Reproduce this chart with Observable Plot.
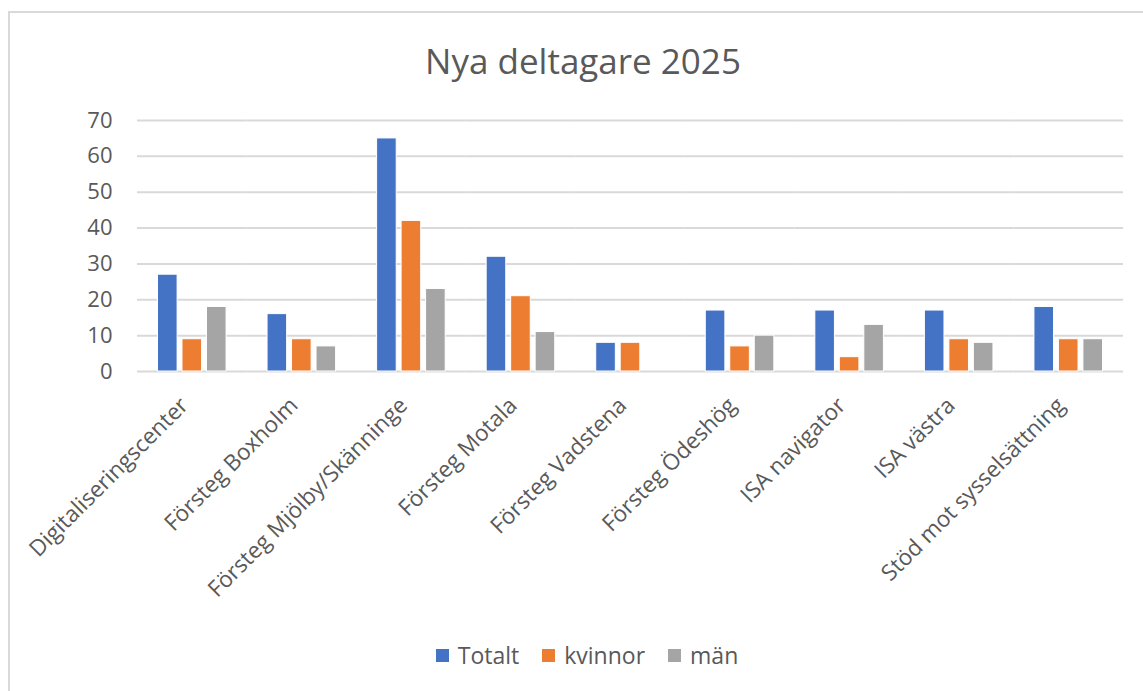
<!DOCTYPE html>
<html>
<head>
<meta charset="utf-8">
<script src="https://cdn.jsdelivr.net/npm/d3@7"></script>
<script src="https://cdn.jsdelivr.net/npm/@observablehq/plot@0.6"></script>
<style>
  body { margin: 0; background: #fff; font-family: "Open Sans", sans-serif; }
  #frame { position: absolute; left: 8px; top: 11px; width: 1200px; height: 700px; border: 2px solid #d9d9d9; box-sizing: border-box; }
  #title { position: absolute; left: 0; top: 37px; width: 1166px; text-align: center; font-size: 35px; color: #595959; font-family: "Open Sans", sans-serif; }
  #chart { position: absolute; left: 0; top: 100px; }
  #legend { position: absolute; left: 0; top: 639px; width: 1174px; display: flex; justify-content: center; gap: 23px; font-size: 23px; color: #595959; }
  .item { display: flex; align-items: center; gap: 9px; }
  .sw { width: 13px; height: 13px; display: inline-block; }
</style>
</head>
<body>
<div id="frame"></div>
<div id="title">Nya deltagare 2025</div>
<div id="chart"></div>
<div id="legend"></div>
<script>
const categories = [
  "Digitaliseringscenter",
  "Försteg Boxholm",
  "Försteg Mjölby/Skänninge",
  "Försteg Motala",
  "Försteg Vadstena",
  "Försteg Ödeshög",
  "ISA navigator",
  "ISA västra",
  "Stöd mot sysselsättning"
];
const seriesNames = ["Totalt", "kvinnor", "män"];
const totalt  = [27, 16, 65, 32, 8, 17, 17, 17, 18];
const kvinnor = [9, 9, 42, 21, 8, 7, 4, 9, 9];
const man     = [18, 7, 23, 11, 0, 10, 13, 8, 9];
const seriesColors = ["#4472C4", "#ED7D31", "#A5A5A5"];
const yTicks = [0, 10, 20, 30, 40, 50, 60, 70];

const seriesValues = [totalt, kvinnor, man];
const table = categories.flatMap((c, i) =>
  seriesNames.map((s, j) => ({cat: c, series: s, value: seriesValues[j][i]}))
);

const chart = Plot.plot({
  width: 1143,
  height: 511,
  marginLeft: 137,
  marginRight: 20,
  marginTop: 20,
  marginBottom: 240,
  style: {fontFamily: "Open Sans, sans-serif", fontSize: "22px", color: "#595959", background: "transparent"},
  fx: {domain: categories, padding: 0, round: false, axis: null, label: null},
  x: {domain: seriesNames, paddingInner: 0.2, paddingOuter: 0.837, round: false, axis: null},
  y: {domain: [0, 70], ticks: 7, tickSize: 0, tickPadding: 25, label: null, grid: false},
  color: {domain: seriesNames, range: seriesColors},
  marks: [
    Plot.ruleY(yTicks, {stroke: "#d9d9d9", strokeWidth: 2}),
    Plot.barY(table, {fx: "cat", x: "series", y: "value", fill: "series", stroke: "white", strokeWidth: 1}),
    Plot.text(categories, {fx: d => d, text: d => d, frameAnchor: "bottom", rotate: -45, textAnchor: "end", lineAnchor: "top", dx: -14, dy: 24, fontSize: 22.5, fill: "#595959"})
  ]
});
document.getElementById("chart").appendChild(chart);

const legend = document.getElementById("legend");
seriesNames.forEach((s, i) => {
  const item = document.createElement("div");
  item.className = "item";
  const sw = document.createElement("span");
  sw.className = "sw";
  sw.style.background = seriesColors[i];
  const t = document.createElement("span");
  t.textContent = s;
  item.appendChild(sw);
  item.appendChild(t);
  legend.appendChild(item);
});
</script>
</body>
</html>
